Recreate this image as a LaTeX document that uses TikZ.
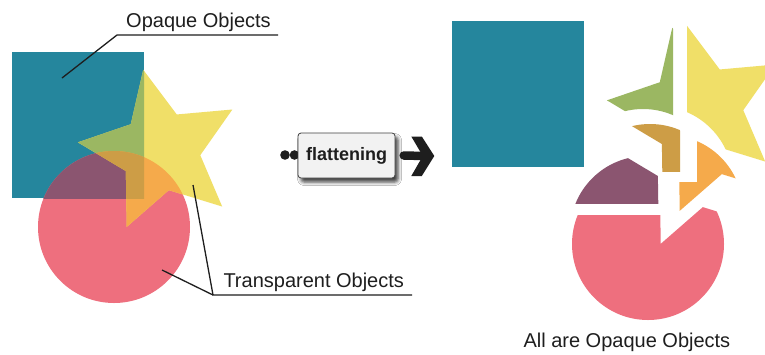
\documentclass[tikz,border=0pt]{standalone}
\usepackage{fontspec}
\setmainfont{Liberation Sans}
\usetikzlibrary{shadows.blur}

\definecolor{tealc}{RGB}{37,134,157}
\definecolor{yelc}{RGB}{240,223,104}
\definecolor{pnkc}{RGB}{238,111,126}
\definecolor{grnc}{RGB}{155,183,98}
\definecolor{purc}{RGB}{139,85,112}
\definecolor{orgc}{RGB}{245,170,75}
\definecolor{ochc}{RGB}{205,157,70}
\definecolor{ink}{RGB}{30,30,30}

% the three source shapes (pixel units, y pointing down)
\newcommand\sqP{(12,52) rectangle (144,198)}
\newcommand\stP{(143.24,69.82) -- (130.78,124.24) -- (77.96,142.33) -- (125.86,171) -- (126.74,226.82) -- (168.82,190.12) -- (222.18,206.54) -- (200.28,155.18) -- (232.38,109.5) -- (176.77,114.46) -- cycle}
\newcommand\ciP{(114,227) circle[radius=76pt]}
\newcommand\bigP{(-2000,-2000) rectangle (3000,3000)}

\tikzset{
  lbl/.style={font=\fontsize{20}{24}\selectfont, text=ink, inner sep=0pt, anchor=base west},
  lead/.style={draw=ink, line width=1.3pt},
  piece/.style={even odd rule},
}

\begin{document}
\begin{tikzpicture}[x=1pt, y=-1pt]
\useasboundingbox (0,0) rectangle (765,354);
\fill[white] (0,0) rectangle (765,354);

% ---- overlapping objects ----
\fill[tealc] \sqP;
\fill[pnkc] \ciP;
\fill[yelc] \stP;
\begin{scope}
  \clip \sqP;
  \fill[purc] \ciP;
  \fill[grnc] \stP;
\end{scope}
\begin{scope}
  \clip \ciP;
  \fill[orgc] \stP;
  \clip \sqP;
  \fill[ochc] \stP;
\end{scope}

% ---- flattened pieces ----
\begin{scope}[shift={(440,-31)}]
  \fill[tealc] \sqP;
\end{scope}
\begin{scope}[piece, shift={(543,-45)}]
  \clip \bigP \sqP;
  \clip \bigP \ciP;
  \fill[yelc] \stP;
\end{scope}
\begin{scope}[piece, shift={(529,-42)}]
  \clip \sqP;
  \clip \bigP \ciP;
  \fill[grnc] \stP;
\end{scope}
\begin{scope}[piece, shift={(536,-27)}]
  \clip \sqP;
  \clip \ciP;
  \fill[ochc] \stP;
\end{scope}
\begin{scope}[piece, shift={(553,-16)}]
  \clip \ciP;
  \clip \bigP \sqP;
  \fill[orgc] \stP;
\end{scope}
\begin{scope}[piece, shift={(532,5)}]
  \clip \sqP;
  \clip \bigP \stP;
  \fill[purc] \ciP;
\end{scope}
\begin{scope}[piece, shift={(534,17)}]
  \clip \bigP \sqP;
  \clip \bigP \stP;
  \fill[pnkc] \ciP;
\end{scope}

% ---- labels with leader lines ----
\node[lbl] (opq) at (126,27.3) {Opaque Objects};
\coordinate (opqL) at (117,35);
\coordinate (opqR) at (278,35);
\coordinate (opqT) at (62,78);
\draw[lead] (opqR) -- (opqL) -- (opqT);

\node[lbl] (trn) at (223.3,287.3) {Transparent Objects};
\coordinate (trnL) at (213,295);
\coordinate (trnR) at (412,295);
\coordinate (trnS) at (193,185);
\coordinate (trnC) at (162,270);
\draw[lead] (trnR) -- (trnL) -- (trnS);
\draw[lead] (trnL) -- (trnC);

\node[lbl] (allop) at (523.3,347.7) {All are Opaque Objects};

% ---- flattening step ----
\fill[ink] (285,155) circle[radius=4.8pt] coordinate (dotA);
\fill[ink] (294.5,155) circle[radius=4.8pt] coordinate (dotB);
\node[draw=ink!85, line width=0.8pt, fill=gray!10, rounded corners=3pt,
      minimum width=97pt, minimum height=45pt, inner sep=0pt,
      font=\bfseries\fontsize{18}{20}\selectfont, text=ink,
      blur shadow={shadow xshift=3pt, shadow yshift=-4pt, shadow blur radius=3.5pt, shadow opacity=75}]
      (flat) at (346.5,155.5) {flattening};
\coordinate (tip) at (434.3,156);
\draw[ink, line width=8.5pt, line cap=round] ([xshift=8.3pt]flat.east) -- ([xshift=-10pt]tip);
\fill[ink] (tip) -- ++(-12.5,-19.5) -- ++(-10.5,0) -- ++(11.5,19.5) -- ++(-11.5,20) -- ++(10.5,0) -- cycle;
\end{tikzpicture}
\end{document}
